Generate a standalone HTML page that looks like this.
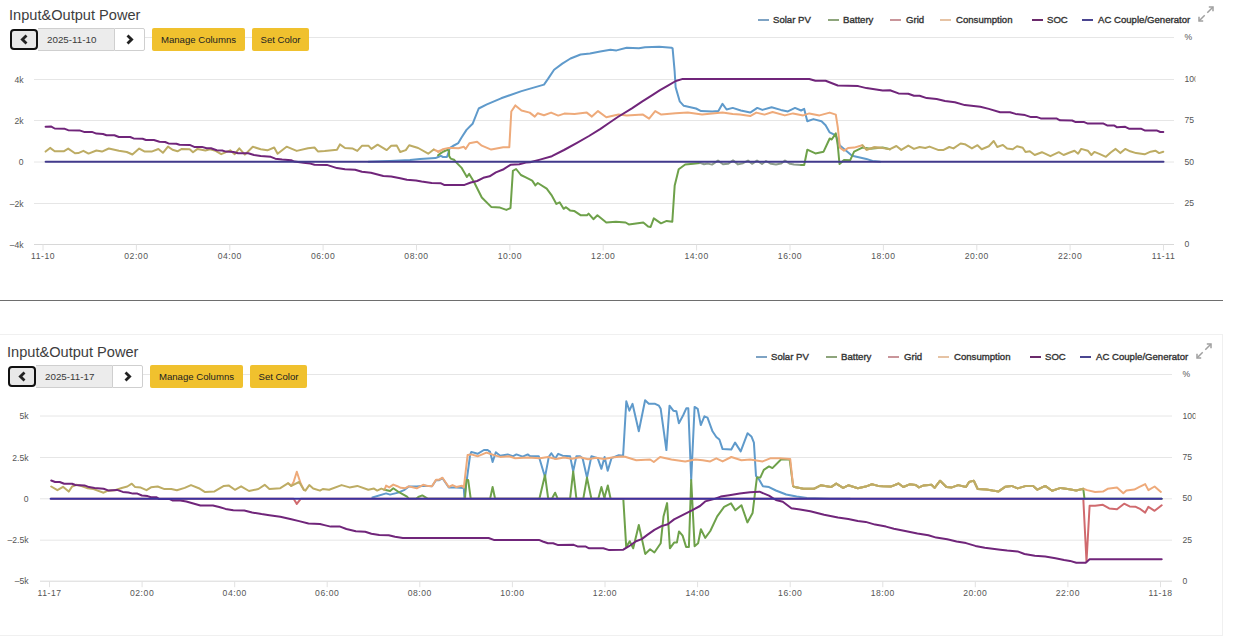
<!DOCTYPE html>
<html><head><meta charset="utf-8"><style>
html,body{margin:0;padding:0;background:#fff;}
body{width:1242px;height:638px;overflow:hidden;position:relative;font-family:"Liberation Sans",sans-serif;color:#333;}
.title{position:absolute;font-size:14.6px;line-height:17px;color:#3d3d3d;white-space:nowrap;}
.prev{position:absolute;width:24px;height:17px;border:2px solid #111;border-radius:4px;background:#e8e8e8;box-sizing:content-box;display:flex;align-items:center;justify-content:center;}
.date{position:absolute;width:76px;height:21px;border-top:1px solid #cfcfcf;border-bottom:1px solid #cfcfcf;background:#ececec;font-size:9.8px;line-height:21px;color:#3a3a3a;text-indent:9px;white-space:nowrap;}
.next{position:absolute;width:29px;height:21px;border:1px solid #cfcfcf;border-radius:0 2px 2px 0;background:#fff;display:flex;align-items:center;justify-content:center;}
.ybtn{position:absolute;height:23px;background:#f0c12e;border-radius:2px;font-size:9.6px;line-height:23px;color:#222;text-align:center;white-space:nowrap;}
.lgl{position:absolute;width:11px;height:2px;}
.lgt{position:absolute;font-size:9.6px;line-height:11px;font-weight:normal;-webkit-text-stroke:0.35px #333;color:#333;white-space:nowrap;}
.exp{position:absolute;}
svg.main{position:absolute;left:0;top:0;}
.xl{font-size:8.6px;fill:#555;letter-spacing:0.55px;}
.yl{font-size:8.6px;fill:#555;}
</style></head><body>
<div style="position:absolute;left:0;top:300px;width:1223px;height:1px;background:#6e6e6e"></div>
<div style="position:absolute;left:-1px;top:334px;width:1222px;height:300px;border:1px solid #f0f0f0;"></div>
<svg class="main" width="1242" height="638" viewBox="0 0 1242 638">
<defs><clipPath id="c1"><rect x="0" y="0" width="1195.5" height="300"/></clipPath><clipPath id="c2"><rect x="0" y="300" width="1195.5" height="338"/></clipPath></defs>
<g clip-path="url(#c1)">
<line x1="34" y1="37.5" x2="1174" y2="37.5" stroke="#e6e6e6" stroke-width="1"/>
<line x1="34" y1="79.5" x2="1174" y2="79.5" stroke="#e6e6e6" stroke-width="1"/>
<line x1="34" y1="120.5" x2="1174" y2="120.5" stroke="#e6e6e6" stroke-width="1"/>
<line x1="34" y1="162.0" x2="1174" y2="162.0" stroke="#e6e6e6" stroke-width="1"/>
<line x1="34" y1="203.5" x2="1174" y2="203.5" stroke="#e6e6e6" stroke-width="1"/>
<line x1="34" y1="244.5" x2="1174" y2="244.5" stroke="#d8d8d8" stroke-width="1"/>
<line x1="43.0" y1="244.5" x2="43.0" y2="250.5" stroke="#e2e2e2" stroke-width="1"/>
<line x1="136.4" y1="244.5" x2="136.4" y2="250.5" stroke="#e2e2e2" stroke-width="1"/>
<line x1="229.8" y1="244.5" x2="229.8" y2="250.5" stroke="#e2e2e2" stroke-width="1"/>
<line x1="323.1" y1="244.5" x2="323.1" y2="250.5" stroke="#e2e2e2" stroke-width="1"/>
<line x1="416.5" y1="244.5" x2="416.5" y2="250.5" stroke="#e2e2e2" stroke-width="1"/>
<line x1="509.9" y1="244.5" x2="509.9" y2="250.5" stroke="#e2e2e2" stroke-width="1"/>
<line x1="603.2" y1="244.5" x2="603.2" y2="250.5" stroke="#e2e2e2" stroke-width="1"/>
<line x1="696.6" y1="244.5" x2="696.6" y2="250.5" stroke="#e2e2e2" stroke-width="1"/>
<line x1="790.0" y1="244.5" x2="790.0" y2="250.5" stroke="#e2e2e2" stroke-width="1"/>
<line x1="883.4" y1="244.5" x2="883.4" y2="250.5" stroke="#e2e2e2" stroke-width="1"/>
<line x1="976.8" y1="244.5" x2="976.8" y2="250.5" stroke="#e2e2e2" stroke-width="1"/>
<line x1="1070.1" y1="244.5" x2="1070.1" y2="250.5" stroke="#e2e2e2" stroke-width="1"/>
<line x1="1163.5" y1="244.5" x2="1163.5" y2="250.5" stroke="#e2e2e2" stroke-width="1"/>
<text x="43.0" y="258.5" text-anchor="middle" class="xl">11-10</text>
<text x="136.4" y="258.5" text-anchor="middle" class="xl">02:00</text>
<text x="229.8" y="258.5" text-anchor="middle" class="xl">04:00</text>
<text x="323.1" y="258.5" text-anchor="middle" class="xl">06:00</text>
<text x="416.5" y="258.5" text-anchor="middle" class="xl">08:00</text>
<text x="509.9" y="258.5" text-anchor="middle" class="xl">10:00</text>
<text x="603.2" y="258.5" text-anchor="middle" class="xl">12:00</text>
<text x="696.6" y="258.5" text-anchor="middle" class="xl">14:00</text>
<text x="790.0" y="258.5" text-anchor="middle" class="xl">16:00</text>
<text x="883.4" y="258.5" text-anchor="middle" class="xl">18:00</text>
<text x="976.8" y="258.5" text-anchor="middle" class="xl">20:00</text>
<text x="1070.1" y="258.5" text-anchor="middle" class="xl">22:00</text>
<text x="1163.5" y="258.5" text-anchor="middle" class="xl">11-11</text>
<text x="23.5" y="82.5" text-anchor="end" class="yl">4k</text>
<text x="23.5" y="123.5" text-anchor="end" class="yl">2k</text>
<text x="23.5" y="165.0" text-anchor="end" class="yl">0</text>
<text x="23.5" y="206.5" text-anchor="end" class="yl">&#8211;2k</text>
<text x="23.5" y="247.5" text-anchor="end" class="yl">&#8211;4k</text>
<text x="1184.5" y="40.1" class="yl">%</text>
<text x="1184.5" y="82.1" class="yl">100</text>
<text x="1184.5" y="123.1" class="yl">75</text>
<text x="1184.5" y="164.6" class="yl">50</text>
<text x="1184.5" y="206.1" class="yl">25</text>
<text x="1184.5" y="247.1" class="yl">0</text>
<polyline fill="none" stroke="#5f9acb" stroke-width="2" stroke-linejoin="round" stroke-linecap="round"  points="368.6,161.8 390.0,161.0 410.0,160.0 420.0,158.9 435.4,158.1 438.1,157.0 440.9,155.9 443.0,157.0 446.9,157.0 448.0,154.2 449.6,148.2 452.9,146.0 458.3,143.1 461.4,137.8 466.5,129.9 472.6,123.8 478.7,108.5 486.9,104.4 501.1,98.3 521.5,91.1 544.0,84.6 548.0,78.9 554.1,69.7 562.3,63.6 570.5,58.5 580.6,54.5 590.0,53.4 600.2,51.4 610.4,49.8 616.5,50.4 626.7,47.7 638.9,48.3 645.0,47.3 659.3,46.7 671.5,47.7 672.6,48.3 674.6,70.8 675.6,87.1 679.7,101.3 683.8,105.8 696.0,108.5 701.1,111.1 712.3,111.5 718.4,111.1 722.5,103.8 726.6,109.5 732.7,107.9 740.8,110.5 750.2,112.6 757.3,107.9 762.4,109.9 771.6,107.3 780.8,109.9 787.9,111.4 795.0,107.9 801.1,110.5 804.2,108.9 807.3,121.2 813.4,119.1 821.5,121.2 825.6,125.2 829.7,132.4 835.8,135.4 839.9,145.6 852.1,155.8 866.4,158.9 872.5,160.9 880.0,161.8"/>
<polyline fill="none" stroke="#6ea14a" stroke-width="2" stroke-linejoin="round" stroke-linecap="round"  points="438.1,155.3 440.9,153.1 443.6,151.5 447.4,149.8 449.1,150.9 449.1,155.9 450.7,158.6 454.0,159.7 456.2,162.4 461.4,167.6 466.9,177.0 469.2,173.9 473.9,181.8 481.8,197.5 491.2,206.9 500.0,207.6 506.4,209.9 510.5,208.0 512.9,170.9 516.1,169.0 520.9,175.0 525.8,177.4 532.2,180.6 535.4,185.4 537.8,183.0 546.7,188.6 551.5,195.1 556.4,203.9 559.6,202.3 563.6,208.8 566.0,207.2 570.0,210.4 574.1,210.9 580.5,215.2 587.0,215.2 588.6,213.6 593.4,219.2 597.4,215.2 606.3,222.5 615.9,221.7 625.6,222.5 628.8,224.4 643.3,222.5 648.1,226.5 650.6,227.0 653.8,218.4 661.0,223.3 666.7,220.9 672.3,221.7 674.7,185.4 678.7,169.3 685.2,164.5 693.2,163.7 700.0,162.9"/>
<polyline fill="none" stroke="#8c9c8c" stroke-width="2" stroke-linejoin="round" stroke-linecap="round"  points="700.0,162.9 704.0,164.3 708.0,163.6 712.0,164.6 718.0,160.6 723.0,164.2 728.0,163.8 733.0,160.4 738.0,164.4 743.0,163.2 748.0,160.6 752.0,163.8 757.0,160.6 762.0,164.0 766.0,161.0 771.0,163.8 776.0,164.5 781.0,163.6 785.0,160.5 790.0,163.8 794.0,164.5 801.1,165.0"/>
<polyline fill="none" stroke="#6ea14a" stroke-width="2" stroke-linejoin="round" stroke-linecap="round"  points="801.1,165.0 804.2,165.0 807.3,149.7 815.4,153.4 823.6,151.7 829.7,138.5 831.7,139.5 835.8,133.4 837.8,145.6 839.5,164.0 844.0,159.9 850.1,160.3 854.1,151.7 862.3,147.6 870.5,148.7 882.7,147.6 890.0,149.2"/>
<polyline fill="none" stroke="#eeaa7a" stroke-width="2" stroke-linejoin="round" stroke-linecap="round"  points="433.7,149.5 438.1,151.5 443.0,149.5 438.1,152.0 443.0,149.2 448.5,147.9 452.9,147.9 458.4,148.2 463.9,146.8 465.6,149.0 469.4,143.2 477.1,141.8 481.8,145.7 491.2,149.6 503.2,147.2 509.3,147.2 511.3,111.5 515.4,105.4 521.5,110.5 529.7,112.6 534.8,116.6 537.8,113.2 544.0,115.2 551.1,112.6 558.2,115.6 564.3,113.6 574.5,114.0 586.8,112.6 591.9,116.6 598.0,111.1 606.3,117.2 618.5,114.6 626.7,115.6 643.0,114.6 649.1,118.7 655.2,111.1 661.3,114.6 675.6,113.2 687.8,112.6 702.1,114.6 722.5,112.6 732.7,114.0 740.0,114.6 750.2,116.1 756.3,112.6 764.5,114.6 772.6,112.0 784.8,115.4 793.0,113.4 803.2,115.4 809.3,113.4 819.5,115.4 829.7,112.6 835.8,114.6 837.8,127.3 839.9,147.6 844.0,150.7 848.0,148.1 854.1,147.6 862.3,145.2 866.4,149.7 874.5,147.2 882.7,148.1"/>
<polyline fill="none" stroke="#bdac64" stroke-width="2" stroke-linejoin="round" stroke-linecap="round"  points="45.6,151.6 50.1,147.9 54.7,151.3 63.7,151.3 68.2,148.6 75.0,153.3 78.3,153.1 83.4,150.8 88.5,153.6 96.4,150.5 102.0,151.6 108.8,148.5 118.9,150.8 126.8,152.0 132.4,154.5 139.2,148.6 144.8,151.6 151.6,151.6 158.4,149.0 162.9,152.8 168.0,146.6 172.5,149.7 177.5,151.3 181.8,148.9 189.7,149.2 193.0,152.3 197.5,148.9 205.4,150.5 210.0,149.2 215.6,150.9 221.2,154.2 230.2,150.3 234.7,154.2 239.3,148.3 244.9,154.6 252.8,146.7 260.7,149.2 267.4,150.3 274.2,147.5 277.6,153.7 286.6,146.7 296.7,150.9 308.0,148.3 314.5,147.5 317.9,151.4 324.7,150.9 337.0,149.7 339.9,144.4 345.0,148.0 352.8,148.6 357.3,150.9 361.9,145.8 368.6,145.8 371.4,148.9 377.6,144.7 386.7,150.1 391.2,145.8 396.8,145.6 400.2,152.0 405.8,150.1 409.2,145.2 418.2,148.0 428.2,153.7 433.7,149.5"/>
<polyline fill="none" stroke="#bdac64" stroke-width="2" stroke-linejoin="round" stroke-linecap="round"  points="862.3,145.2 866.4,149.7 874.5,147.2 882.7,148.1 890.0,149.2"/>
<polyline fill="none" stroke="#bdac64" stroke-width="2" stroke-linejoin="round" stroke-linecap="round"  points="890.0,149.2 896.4,146.0 901.3,149.9 908.3,145.6 914.0,148.9 919.6,147.0 925.3,148.0 929.5,146.6 938.0,149.9 943.6,149.9 949.3,147.0 953.5,148.4 960.6,143.5 964.8,144.2 971.9,148.4 977.5,145.2 981.7,149.2 988.8,146.3 993.7,141.0 997.3,147.0 1002.9,144.9 1007.1,148.4 1012.8,149.2 1017.0,146.3 1022.7,147.7 1025.5,152.0 1029.8,151.3 1034.7,155.0 1041.9,152.2 1050.4,156.2 1058.8,152.2 1063.6,155.0 1069.7,152.5 1074.5,150.7 1078.1,153.7 1081.2,148.9 1087.8,150.7 1091.4,155.0 1094.4,151.9 1099.9,154.1 1105.9,156.8 1110.7,152.5 1115.6,148.9 1120.4,153.1 1125.2,148.9 1130.1,151.3 1136.1,153.1 1144.6,154.3 1150.6,151.7 1155.4,150.7 1159.1,153.1 1163.3,151.7"/>
<polyline fill="none" stroke="#70257a" stroke-width="2" stroke-linejoin="round" stroke-linecap="round"  points="45.6,126.8 51.3,126.6 54.7,128.5 64.8,128.8 68.2,130.2 79.5,130.4 84.0,131.9 91.9,131.9 96.4,133.6 103.0,134.0 106.5,135.3 114.4,135.3 118.9,137.0 130.2,137.0 133.6,138.4 142.6,138.7 146.0,140.0 153.9,140.0 159.5,141.7 165.1,142.0 168.5,143.4 176.4,143.7 179.5,144.7 189.7,144.9 194.2,146.9 202.0,146.9 206.6,148.3 211.0,148.3 216.7,150.3 222.3,150.5 225.7,151.6 233.6,152.0 238.1,153.3 248.3,153.3 254.0,155.0 260.7,155.9 270.8,156.8 275.3,158.7 282.1,159.5 291.1,160.2 294.5,161.6 303.5,162.7 310.3,163.6 314.5,164.7 326.9,164.9 337.0,168.1 345.0,169.2 355.1,169.7 361.9,171.7 370.9,172.8 383.3,176.0 391.2,176.4 400.2,178.2 406.9,179.8 416.0,180.5 421.6,181.6 431.7,183.0 441.0,183.3 444.1,184.9 464.5,184.9 470.8,182.5 477.1,181.0 483.3,177.8 489.6,176.3 495.9,172.4 503.7,169.2 510.5,164.8 519.3,164.2 525.8,162.6 530.0,162.3 540.0,159.6 551.9,156.2 564.0,150.0 577.0,142.9 589.0,136.0 600.5,128.8 609.0,123.0 617.8,117.0 631.9,108.4 642.0,101.6 652.3,95.1 660.0,90.2 667.9,85.7 675.8,81.0 682.0,79.1 809.3,79.0 815.4,80.8 825.6,80.8 837.8,85.5 858.2,86.1 866.4,88.1 882.7,90.6 890.0,90.2 898.5,93.4 908.3,93.8 914.0,95.8 919.6,95.8 926.7,98.1 936.6,99.1 945.0,100.9 954.9,102.3 964.8,105.1 980.3,106.8 988.8,108.9 1000.1,112.2 1010.0,112.2 1015.6,113.9 1025.0,115.1 1031.0,117.1 1037.1,117.1 1040.7,118.4 1056.4,118.4 1060.0,120.3 1072.1,120.5 1075.7,122.1 1084.2,122.1 1087.8,123.6 1103.5,123.6 1107.1,125.4 1114.4,125.6 1116.8,127.2 1125.2,126.8 1128.9,128.7 1140.9,128.7 1144.6,130.4 1156.6,130.4 1160.3,132.0 1163.3,132.0"/>
<polyline fill="none" stroke="#423a8c" stroke-width="2" stroke-linejoin="round" stroke-linecap="round"  points="45.6,161.8 1163.5,161.8"/>
</g>
<g clip-path="url(#c2)">
<line x1="40" y1="374.5" x2="1172" y2="374.5" stroke="#e6e6e6" stroke-width="1"/>
<line x1="40" y1="416.0" x2="1172" y2="416.0" stroke="#e6e6e6" stroke-width="1"/>
<line x1="40" y1="457.5" x2="1172" y2="457.5" stroke="#e6e6e6" stroke-width="1"/>
<line x1="40" y1="498.8" x2="1172" y2="498.8" stroke="#e6e6e6" stroke-width="1"/>
<line x1="40" y1="540.2" x2="1172" y2="540.2" stroke="#e6e6e6" stroke-width="1"/>
<line x1="40" y1="581.2" x2="1172" y2="581.2" stroke="#d8d8d8" stroke-width="1"/>
<line x1="49.5" y1="581.2" x2="49.5" y2="587.2" stroke="#e2e2e2" stroke-width="1"/>
<line x1="142.1" y1="581.2" x2="142.1" y2="587.2" stroke="#e2e2e2" stroke-width="1"/>
<line x1="234.7" y1="581.2" x2="234.7" y2="587.2" stroke="#e2e2e2" stroke-width="1"/>
<line x1="327.2" y1="581.2" x2="327.2" y2="587.2" stroke="#e2e2e2" stroke-width="1"/>
<line x1="419.8" y1="581.2" x2="419.8" y2="587.2" stroke="#e2e2e2" stroke-width="1"/>
<line x1="512.4" y1="581.2" x2="512.4" y2="587.2" stroke="#e2e2e2" stroke-width="1"/>
<line x1="605.0" y1="581.2" x2="605.0" y2="587.2" stroke="#e2e2e2" stroke-width="1"/>
<line x1="697.6" y1="581.2" x2="697.6" y2="587.2" stroke="#e2e2e2" stroke-width="1"/>
<line x1="790.2" y1="581.2" x2="790.2" y2="587.2" stroke="#e2e2e2" stroke-width="1"/>
<line x1="882.8" y1="581.2" x2="882.8" y2="587.2" stroke="#e2e2e2" stroke-width="1"/>
<line x1="975.3" y1="581.2" x2="975.3" y2="587.2" stroke="#e2e2e2" stroke-width="1"/>
<line x1="1067.9" y1="581.2" x2="1067.9" y2="587.2" stroke="#e2e2e2" stroke-width="1"/>
<line x1="1160.5" y1="581.2" x2="1160.5" y2="587.2" stroke="#e2e2e2" stroke-width="1"/>
<text x="49.5" y="595.5" text-anchor="middle" class="xl">11-17</text>
<text x="142.1" y="595.5" text-anchor="middle" class="xl">02:00</text>
<text x="234.7" y="595.5" text-anchor="middle" class="xl">04:00</text>
<text x="327.2" y="595.5" text-anchor="middle" class="xl">06:00</text>
<text x="419.8" y="595.5" text-anchor="middle" class="xl">08:00</text>
<text x="512.4" y="595.5" text-anchor="middle" class="xl">10:00</text>
<text x="605.0" y="595.5" text-anchor="middle" class="xl">12:00</text>
<text x="697.6" y="595.5" text-anchor="middle" class="xl">14:00</text>
<text x="790.2" y="595.5" text-anchor="middle" class="xl">16:00</text>
<text x="882.8" y="595.5" text-anchor="middle" class="xl">18:00</text>
<text x="975.3" y="595.5" text-anchor="middle" class="xl">20:00</text>
<text x="1067.9" y="595.5" text-anchor="middle" class="xl">22:00</text>
<text x="1160.5" y="595.5" text-anchor="middle" class="xl">11-18</text>
<text x="28.5" y="419.0" text-anchor="end" class="yl">5k</text>
<text x="28.5" y="460.5" text-anchor="end" class="yl">2.5k</text>
<text x="28.5" y="501.8" text-anchor="end" class="yl">0</text>
<text x="28.5" y="543.2" text-anchor="end" class="yl">&#8211;2.5k</text>
<text x="28.5" y="584.2" text-anchor="end" class="yl">&#8211;5k</text>
<text x="1182.5" y="377.1" class="yl">%</text>
<text x="1182.5" y="418.6" class="yl">100</text>
<text x="1182.5" y="460.1" class="yl">75</text>
<text x="1182.5" y="501.4" class="yl">50</text>
<text x="1182.5" y="542.8" class="yl">25</text>
<text x="1182.5" y="583.8" class="yl">0</text>
<polyline fill="none" stroke="#5f9acb" stroke-width="2" stroke-linejoin="round" stroke-linecap="round"  points="372.4,497.5 386.1,493.4 390.1,494.6 398.2,492.6 404.6,489.8 408.6,486.6 416.7,486.5 424.8,485.8 432.0,486.2 436.0,480.2 439.2,480.2 442.5,478.2 448.8,487.5 456.3,487.5 463.8,488.0 464.4,497.7 470.1,455.1 471.3,451.9 477.6,453.8 483.9,450.0 487.6,450.0 490.1,451.9 492.6,462.0 495.8,452.3 500.2,455.7 507.7,454.4 512.7,456.3 516.4,454.4 522.7,456.6 527.7,454.4 530.2,456.3 538.8,456.3 545.0,477.0 548.8,456.9 551.3,453.2 555.1,458.8 558.2,453.8 562.6,455.7 570.1,456.3 573.2,471.4 576.4,456.3 580.1,456.3 582.6,458.2 587.0,477.6 591.4,456.3 597.7,458.2 601.4,468.8 604.6,456.9 607.7,470.7 611.5,458.2 618.8,455.2 623.1,455.8 626.3,401.3 629.4,410.7 632.5,403.8 638.8,431.3 645.1,400.3 648.8,403.8 655.1,403.8 658.9,405.7 660.7,408.8 666.4,450.1 669.5,405.7 673.3,410.7 676.4,411.3 678.9,423.2 683.3,415.0 686.4,408.2 688.3,408.2 691.2,480.0 694.6,406.9 697.7,408.8 700.8,425.1 704.4,416.3 707.5,417.6 712.5,431.3 716.3,437.0 719.4,439.5 722.6,449.1 731.3,449.5 735.1,442.6 740.7,451.4 747.6,433.2 751.4,436.4 753.9,442.6 756.0,475.9 759.5,480.2 762.9,486.2 769.0,487.1 775.9,490.5 786.2,494.5 796.6,496.6 806.9,497.9 830.0,498.7 850.0,498.8"/>
<polyline fill="none" stroke="#6ea14a" stroke-width="2" stroke-linejoin="round" stroke-linecap="round"  points="384.5,489.8 390.1,491.0 393.3,488.2 399.0,492.2 407.0,496.6 409.0,498.8 416.0,498.8 418.3,497.0 422.3,495.4 426.4,497.8 428.0,498.8 465.0,498.7 466.3,480.1 468.2,480.1 470.7,498.7 490.1,498.7 492.6,487.0 495.1,498.7 539.4,498.7 545.0,475.1 548.2,498.7 551.9,498.7 555.1,492.7 557.6,498.7 570.1,498.7 573.2,471.4 576.4,498.7 583.3,498.7 587.0,477.6 591.4,498.7 598.3,498.7 601.4,487.0 604.6,498.7 605.0,495.4 607.8,485.5 610.6,498.7 623.3,498.9 626.2,546.9 629.7,541.2 633.2,548.3 638.8,525.0 645.2,553.9 650.1,549.3 654.4,552.5 660.7,543.3 663.5,516.5 667.1,503.1 669.9,548.3 674.1,542.6 676.9,542.6 679.0,531.4 682.6,535.6 686.1,546.9 688.9,546.9 691.2,480.0 694.6,546.2 698.1,543.3 700.9,529.2 705.2,537.9 710.3,531.0 717.2,516.4 724.1,506.9 731.0,503.4 735.3,510.3 741.4,505.2 747.4,522.4 752.6,512.9 755.2,491.4 756.9,477.6 760.3,477.6 763.8,469.8 769.0,466.4 772.4,468.1 781.0,459.5 789.7,459.5 793.1,486.2 794.8,487.1 803.4,488.8 813.8,488.8 820.7,485.3 831.0,487.1 836.2,483.6 843.1,487.9 848.3,485.3 857.8,488.2 865.7,486.6 871.9,484.3 878.2,485.9 882.9,486.3 890.8,486.6 898.6,483.5 903.3,487.0 909.6,484.3 915.8,485.1 919.0,487.4 923.7,485.4 931.5,484.8 934.6,487.9 940.1,480.7 946.4,487.0 951.9,487.4 958.2,485.1 966.0,487.0 969.1,481.9 973.8,480.7 977.7,489.0 986.4,489.5 992.6,490.6 998.6,491.4 1005.5,486.7 1011.6,485.9 1017.6,488.4 1026.2,485.9 1033.1,485.9 1037.4,489.7 1045.2,485.9 1052.1,490.7 1060.7,487.9 1069.3,489.3 1076.2,490.4 1083.3,488.8 1084.5,498.8 1161.7,498.8"/>
<polyline fill="none" stroke="#d06a6e" stroke-width="2" stroke-linejoin="round" stroke-linecap="round"  points="51.0,498.8 293.6,498.8 296.8,503.9 300.7,498.8 1083.3,498.8 1086.5,561.7 1089.6,505.7 1095.1,505.7 1102.9,504.8 1109.2,508.4 1117.0,509.2 1124.1,503.7 1129.6,506.4 1135.8,506.8 1140.5,509.2 1145.2,512.6 1148.4,506.8 1154.6,510.8 1161.7,505.3"/>
<polyline fill="none" stroke="#eeaa7a" stroke-width="2" stroke-linejoin="round" stroke-linecap="round"  points="384.5,489.8 386.1,485.6 389.3,487.4 393.3,484.6 397.4,486.2 400.6,487.8 405.4,488.2 408.6,486.4 416.7,488.3 423.1,484.8 426.4,485.8 432.0,486.2 436.0,479.7 439.2,479.7 442.5,477.7 448.8,487.0 452.5,485.1 456.3,487.0 461.9,485.8 463.8,487.6 467.6,455.1 471.3,454.4 477.6,456.3 486.4,452.6 490.1,453.8 493.9,455.1 500.2,456.9 508.9,456.3 515.2,458.2 527.7,457.6 540.0,458.2 548.0,457.0 556.0,459.0 564.0,457.5 572.0,458.8 580.0,457.2 588.0,459.3 596.0,457.8 604.0,459.0 612.0,457.5 621.3,456.4 625.0,456.7 636.3,460.2 650.1,459.5 653.8,462.0 660.1,457.0 671.4,459.5 685.2,461.4 695.2,459.5 702.7,460.2 710.2,461.4 716.3,458.3 722.6,461.4 731.3,457.0 741.4,460.2 750.1,459.5 762.7,461.4 770.2,458.3 780.2,458.3 790.2,458.9 793.1,486.2 794.8,487.1 803.4,488.8 813.8,488.8 820.7,485.3 831.0,487.1 836.2,483.6 843.1,487.9 848.3,485.3 857.8,488.2 865.7,486.6 871.9,484.3 878.2,485.9 882.9,486.3 890.8,486.6 898.6,483.5 903.3,487.0 909.6,484.3 915.8,485.1 919.0,487.4 923.7,485.4 931.5,484.8 934.6,487.9 940.1,480.7 946.4,487.0 951.9,487.4 958.2,485.1 966.0,487.0 969.1,481.9 973.8,480.7 977.7,489.0 986.4,489.5 992.6,490.6 998.6,491.4 1005.5,486.7 1011.6,485.9 1017.6,488.4 1026.2,485.9 1033.1,485.9 1037.4,489.7 1045.2,485.9 1052.1,490.7 1060.7,487.9 1069.3,489.3 1076.2,490.4 1083.3,488.8 1087.2,490.1 1095.1,491.9 1102.9,491.6 1107.6,488.8 1117.0,487.6 1123.3,493.2 1126.4,490.4 1134.3,489.6 1139.0,487.2 1145.2,484.1 1148.4,490.1 1154.6,486.5 1160.9,491.9"/>
<polyline fill="none" stroke="#eeaa7a" stroke-width="2" stroke-linejoin="round" stroke-linecap="round"  points="288.2,483.2 291.3,485.9 293.6,482.0 296.8,471.8 300.7,483.5 303.8,489.8"/>
<polyline fill="none" stroke="#bdac64" stroke-width="2" stroke-linejoin="round" stroke-linecap="round"  points="51.2,486.5 57.4,490.2 63.0,486.8 68.7,491.6 72.1,486.5 76.6,484.8 82.2,486.2 87.8,488.2 93.5,489.1 103.6,492.7 108.1,490.7 114.9,490.2 121.7,488.0 127.3,486.5 131.8,483.7 135.2,487.1 140.8,487.6 146.5,490.2 151.0,487.3 157.7,486.5 164.5,489.1 171.3,489.1 176.9,490.2 184.7,487.9 191.0,485.1 198.8,488.2 205.1,492.1 214.5,491.4 223.9,485.9 228.6,485.4 234.9,489.8 241.1,486.3 249.0,491.0 258.4,489.0 264.7,484.8 269.4,489.0 280.3,488.2 288.2,483.2 291.3,485.9 299.1,482.0 303.8,489.8 305.4,490.6 309.3,485.1 313.2,488.5 320.0,490.6 322.8,489.0 329.1,489.8 341.6,485.1 349.5,487.4 357.3,485.9 368.3,489.8 374.0,488.6 377.2,490.6 381.3,488.6 384.5,489.8"/>
<polyline fill="none" stroke="#bdac64" stroke-width="2" stroke-linejoin="round" stroke-linecap="round"  points="793.1,486.2 794.8,487.1 803.4,488.8 813.8,488.8 820.7,485.3 831.0,487.1 836.2,483.6 843.1,487.9 848.3,485.3 857.8,488.2 865.7,486.6 871.9,484.3 878.2,485.9 882.9,486.3 890.8,486.6 898.6,483.5 903.3,487.0 909.6,484.3 915.8,485.1 919.0,487.4 923.7,485.4 931.5,484.8 934.6,487.9 940.1,480.7 946.4,487.0 951.9,487.4 958.2,485.1 966.0,487.0 969.1,481.9 973.8,480.7 977.7,489.0 986.4,489.5 992.6,490.6 998.6,491.4 1005.5,486.7 1011.6,485.9 1017.6,488.4 1026.2,485.9 1033.1,485.9 1037.4,489.7 1045.2,485.9 1052.1,490.7 1060.7,487.9 1069.3,489.3 1076.2,490.4 1083.3,488.8"/>
<polyline fill="none" stroke="#70257a" stroke-width="2" stroke-linejoin="round" stroke-linecap="round"  points="51.2,480.5 55.1,482.0 59.7,482.0 64.2,483.7 72.1,483.7 75.4,485.0 84.5,485.4 89.0,487.1 94.6,488.0 103.6,488.7 108.1,490.4 117.1,489.9 122.8,491.9 128.4,492.5 132.9,493.6 137.4,493.6 141.9,495.5 147.6,496.1 151.0,497.2 156.6,497.2 158.9,498.9 169.0,498.9 172.4,500.4 180.3,500.6 186.3,501.5 200.4,505.5 212.9,505.5 219.2,507.0 225.5,508.9 233.3,510.2 244.3,510.5 252.1,512.5 261.5,514.1 269.4,515.2 280.3,516.7 291.3,519.3 299.1,521.1 308.5,523.5 320.0,524.0 324.4,525.1 330.7,526.6 340.1,526.6 346.4,529.0 355.8,531.3 365.2,531.8 371.4,533.7 379.3,534.9 388.7,535.2 395.0,536.8 402.8,538.1 488.6,538.0 493.8,539.9 538.9,539.9 542.8,541.5 547.9,543.2 553.1,543.2 558.2,545.1 573.7,544.8 577.5,546.4 585.3,546.4 589.1,548.3 603.3,548.3 609.2,550.1 623.3,549.7 629.0,546.2 636.0,541.2 641.7,539.1 647.3,534.9 654.4,529.9 661.4,526.1 667.8,524.3 674.1,519.4 684.0,514.4 692.4,510.2 700.0,506.0 705.2,501.4 713.8,499.1 720.7,496.6 729.3,495.2 739.7,493.4 750.0,492.2 759.5,491.7 769.0,495.7 775.9,500.0 782.8,501.7 791.4,508.3 800.0,509.5 810.3,511.2 824.1,514.7 837.9,517.6 848.3,519.0 857.8,521.1 865.7,521.9 875.1,524.6 886.0,526.6 893.9,528.7 906.4,531.3 917.4,533.4 928.4,535.2 936.2,537.6 947.2,539.2 956.6,541.5 966.0,543.1 975.4,545.9 984.8,547.8 1000.3,549.7 1007.2,550.5 1017.6,551.4 1024.5,554.0 1034.8,555.7 1045.2,556.6 1055.5,558.3 1064.1,560.0 1070.0,560.9 1076.3,562.8 1085.7,562.8 1089.6,559.3 1161.7,559.3"/>
<polyline fill="none" stroke="#3b33a0" stroke-width="2" stroke-linejoin="round" stroke-linecap="round"  points="50.6,498.8 1161.7,498.8"/>
</g>
</svg>
<div class="title" style="left:9px;top:7px">Input&amp;Output Power</div>
<div class="prev" style="left:10px;top:29px"><svg width="9" height="11" viewBox="0 0 9 11"><path d="M6.5 1.6 L2.4 5.5 L6.5 9.4" fill="none" stroke="#222" stroke-width="2.8" stroke-linejoin="miter"/></svg></div>
<div class="date" style="left:38px;top:28px">2025-11-10</div>
<div class="next" style="left:114px;top:28px"><svg width="9" height="11" viewBox="0 0 9 11"><path d="M2.5 1.6 L6.6 5.5 L2.5 9.4" fill="none" stroke="#222" stroke-width="2.8" stroke-linejoin="miter"/></svg></div>
<div class="ybtn" style="left:152px;top:28px;width:93px">Manage Columns</div>
<div class="ybtn" style="left:252px;top:28px;width:57px">Set Color</div>
<div class="lgl" style="left:758.0px;top:19px;background:#7ea3c4"></div>
<div class="lgt" style="left:773.0px;top:14px">Solar PV</div>
<div class="lgl" style="left:827.5px;top:19px;background:#8ea57c"></div>
<div class="lgt" style="left:843.0px;top:14px">Battery</div>
<div class="lgl" style="left:890.0px;top:19px;background:#c9959a"></div>
<div class="lgt" style="left:906.0px;top:14px">Grid</div>
<div class="lgl" style="left:940.0px;top:19px;background:#e6c3a4"></div>
<div class="lgt" style="left:956.0px;top:14px">Consumption</div>
<div class="lgl" style="left:1032.0px;top:19px;background:#6b2a6b"></div>
<div class="lgt" style="left:1047.0px;top:14px">SOC</div>
<div class="lgl" style="left:1082.0px;top:19px;background:#4a4590"></div>
<div class="lgt" style="left:1098.0px;top:14px">AC Couple/Generator</div>
<svg class="exp" style="left:1198px;top:4px" width="20" height="20" viewBox="0 0 20 20"><g fill="none" stroke="#a0a0a0" stroke-width="1.5"><path d="M9.3 8.7 L14.8 3.2"/><path d="M10.8 3 H15 V7.2"/><path d="M6.7 11.3 L1.2 16.8"/><path d="M1 12.8 V17 H5.2"/></g></svg>
<div class="title" style="left:7px;top:344px">Input&amp;Output Power</div>
<div class="prev" style="left:8px;top:366px"><svg width="9" height="11" viewBox="0 0 9 11"><path d="M6.5 1.6 L2.4 5.5 L6.5 9.4" fill="none" stroke="#222" stroke-width="2.8" stroke-linejoin="miter"/></svg></div>
<div class="date" style="left:36px;top:365px">2025-11-17</div>
<div class="next" style="left:112px;top:365px"><svg width="9" height="11" viewBox="0 0 9 11"><path d="M2.5 1.6 L6.6 5.5 L2.5 9.4" fill="none" stroke="#222" stroke-width="2.8" stroke-linejoin="miter"/></svg></div>
<div class="ybtn" style="left:150px;top:365px;width:93px">Manage Columns</div>
<div class="ybtn" style="left:250px;top:365px;width:57px">Set Color</div>
<div class="lgl" style="left:756.0px;top:356px;background:#7ea3c4"></div>
<div class="lgt" style="left:771.0px;top:351px">Solar PV</div>
<div class="lgl" style="left:825.5px;top:356px;background:#8ea57c"></div>
<div class="lgt" style="left:841.0px;top:351px">Battery</div>
<div class="lgl" style="left:888.0px;top:356px;background:#c9959a"></div>
<div class="lgt" style="left:904.0px;top:351px">Grid</div>
<div class="lgl" style="left:938.0px;top:356px;background:#e6c3a4"></div>
<div class="lgt" style="left:954.0px;top:351px">Consumption</div>
<div class="lgl" style="left:1030.0px;top:356px;background:#6b2a6b"></div>
<div class="lgt" style="left:1045.0px;top:351px">SOC</div>
<div class="lgl" style="left:1080.0px;top:356px;background:#4a4590"></div>
<div class="lgt" style="left:1096.0px;top:351px">AC Couple/Generator</div>
<svg class="exp" style="left:1196px;top:341px" width="20" height="20" viewBox="0 0 20 20"><g fill="none" stroke="#a0a0a0" stroke-width="1.5"><path d="M9.3 8.7 L14.8 3.2"/><path d="M10.8 3 H15 V7.2"/><path d="M6.7 11.3 L1.2 16.8"/><path d="M1 12.8 V17 H5.2"/></g></svg>
</body></html>
